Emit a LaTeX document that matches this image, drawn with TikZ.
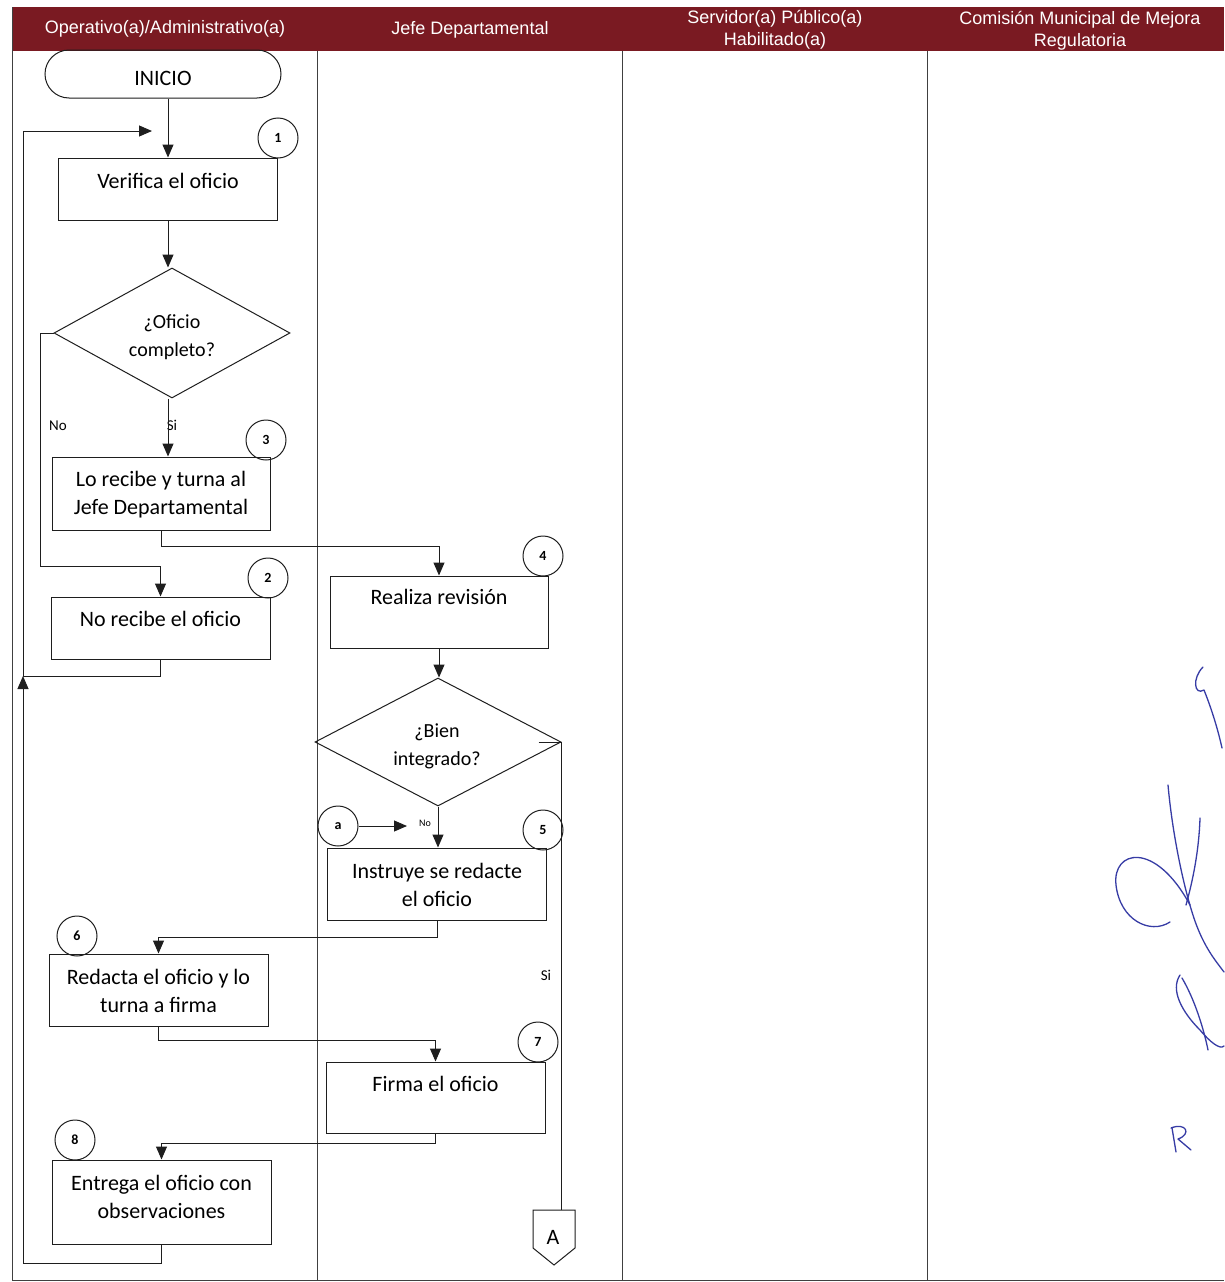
\documentclass[tikz,border=0pt]{standalone}
\usepackage{fontspec}
\setmainfont{Carlito}
\newfontfamily\hdrfont{Liberation Sans}
\usetikzlibrary{shapes.geometric,arrows.meta}
\definecolor{hdrred}{RGB}{122,26,34}
\definecolor{ink}{RGB}{30,30,30}
\definecolor{sig}{RGB}{55,60,165}
\begin{document}
\begin{tikzpicture}[x=1pt,y=-1pt,
  every node/.style={inner sep=0pt},
  box/.style={draw=ink, line width=1pt, rectangle, minimum width=219pt},
  txt/.style={font=\fontsize{22}{28}\selectfont, align=center, text=black},
  dtxt/.style={font=\fontsize{20}{28}\selectfont, align=center, text=black},
  num/.style={draw=ink, circle, line width=1pt, minimum size=40pt, font=\fontsize{14}{15}\selectfont\bfseries},
  dia/.style={draw=ink, line width=1pt, diamond, inner sep=0pt},
  lbl/.style={font=\fontsize{15}{17}\selectfont},
  hdr/.style={font=\hdrfont\fontsize{18}{22}\selectfont, text=white, align=center},
  flow/.style={draw=ink, line width=1pt},
  arr/.style={flow, -{Triangle[length=13pt,width=11pt]}},
  lane/.style={draw=ink!85, line width=0.9pt},
  sigline/.style={draw=sig, line width=1.3pt, line cap=round, line join=round},
]
\useasboundingbox (0,0) rectangle (1224,1282);
\fill[white] (0,0) rectangle (1224,1282);
% header
\fill[hdrred] (12,7) rectangle (1224,51);
\node[hdr] (h1) at (165,29) {Operativo(a)/Administrativo(a)};
\node[hdr] (h2) at (470,30) {Jefe Departamental};
\node[hdr] (h3) at (775,30) {Servidor(a) Público(a)\\Habilitado(a)};
\node[hdr] (h4) at (1080,31) {Comisión Municipal de Mejora\\Regulatoria};
% lanes
\draw[lane] (12,7) -- (12,1280) -- (1224,1280);
\draw[lane] (317,51) -- (317,1280);
\draw[lane] (622,51) -- (622,1280);
\draw[lane] (927,51) -- (927,1280);

% nodes
\node[draw=ink, line width=1pt, rounded corners=24pt, minimum width=236pt, minimum height=48pt] (ini) at (163,74) {};
\node[font=\fontsize{22}{24}\selectfont] (tini) at (163,78) {INICIO};

\node[box, minimum height=62pt] (b1) at (168,189) {};
\node[txt] (t1) at (168,181) {Verifica el oficio};
\node[num] (c1) at (278,138) {1};

\node[dia, minimum width=236pt, minimum height=130pt] (dia1) at (172,333) {};
\node[dtxt] (td1) at (172,337) {¿Oficio\\completo?};

\node[box, minimum width=218pt, minimum height=73pt] (b3) at (161,493.5) {};
\node[txt] (t3) at (161,495) {Lo recibe y turna al\\Jefe Departamental};
\node[num] (c3) at (266,440) {3};

\node[box, minimum height=62pt] (b2) at (160.5,628) {};
\node[txt] (t2) at (160.5,619) {No recibe el oficio};
\node[num] (c2) at (268,578) {2};

\node[box, minimum width=218pt, minimum height=72pt] (b4) at (439,612) {};
\node[txt] (t4) at (439,597) {Realiza revisión};
\node[num] (c4) at (543,556) {4};

\node[dia, minimum width=246pt, minimum height=128pt] (dia2) at (438,742) {};
\node[dtxt] (td2) at (437,746) {¿Bien\\integrado?};

\node[num] (ca) at (338,826) {a};
\node[box, minimum height=72pt] (b5) at (437,884) {};
\node[txt] (t5) at (437,885) {Instruye se redacte\\el oficio};
\node[num] (c5) at (543,830) {5};

\node[box, minimum height=72pt] (b6) at (158.5,990) {};
\node[txt] (t6) at (158.5,991) {Redacta el oficio y lo\\turna a firma};
\node[num] (c6) at (77,936) {6};

\node[box, minimum height=71pt] (b7) at (435.5,1097.5) {};
\node[txt] (t7) at (435.5,1084) {Firma el oficio};
\node[num] (c7) at (538,1042) {7};

\node[box, minimum height=84pt] (b8) at (161.5,1202) {};
\node[txt] (t8) at (161.5,1197) {Entrega el oficio con\\observaciones};
\node[num] (c8) at (75,1140) {8};

% off-page connector A
\coordinate (Atop) at (560,1210);
\draw[flow] (533,1210) -- (575,1210) -- (575,1248) -- (554,1265) -- (533,1248) -- cycle;
\node[font=\fontsize{22}{24}\selectfont] (conA) at (553,1237) {A};

% labels
\node[lbl] (lno1) at (58,426) {No};
\node[lbl] (lsi1) at (172,425) {Si};
\node[font=\fontsize{10}{11}\selectfont] (lno2) at (425,823) {No};
\node[lbl] (lsi2) at (546,975) {Si};

% connectors
\draw[arr] (ini.south -| b1.north) -- (b1.north);
\draw[arr] (b1.south) -- (b1.south |- dia1.north);
\draw[arr] (b1.south |- dia1.south) -- (b1.south |- b3.north);
\draw[arr] (dia1.west) -- ++(-13,0) |- ([yshift=30pt]b2.north) -- (b2.north);
\draw[arr] (b3.south) -- ++(0,16) -| (b4.north);
\coordinate (J) at (23,676);
\coordinate (E) at (152,131);
\draw[flow] (b2.south) |- (J);
\draw[arr] (b8.south) |- (23,1263) -- (J);
\draw[arr] (J) |- (E);
\draw[arr] (b4.south) -- (b4.south |- dia2.north);
\draw[arr] (dia2.south) -- (dia2.south |- b5.north);
\draw[flow] ([xshift=-23pt]dia2.east) -- (dia2.east) -- (dia2.east |- Atop);
\coordinate (aend) at (407,826);
\draw[arr] (ca.east) -- (aend);
\draw[arr] (b5.south) -- ++(0,17) -| (b6.north);
\draw[arr] (b6.south) -- ++(0,14) -| (b7.north);
\draw[arr] (b7.south) -- ++(0,10) -| (b8.north);

% signature
\draw[sigline] (1203,667) .. controls (1192,678) and (1194,696) .. (1204,690) .. controls (1212,710) and (1218,730) .. (1222,748);
\draw[sigline] (1168,785) .. controls (1172,830) and (1182,880) .. (1192,912) .. controls (1202,945) and (1215,960) .. (1224,972);
\draw[sigline] (1200,818) .. controls (1199,850) and (1193,880) .. (1186,905);
\draw[sigline] (1190,905) .. controls (1155,840) and (1112,850) .. (1116,885) .. controls (1120,920) and (1150,935) .. (1170,922);
\draw[sigline] (1180,975) .. controls (1170,990) and (1182,1012) .. (1200,1030) .. controls (1210,1042) and (1220,1050) .. (1224,1046);
\draw[sigline] (1182,978) .. controls (1195,1000) and (1204,1030) .. (1208,1050);
\draw[sigline] (1172,1128) -- (1176,1152);
\draw[sigline] (1171,1128) .. controls (1186,1122) and (1192,1134) .. (1178,1139) -- (1191,1150);
\end{tikzpicture}
\end{document}
